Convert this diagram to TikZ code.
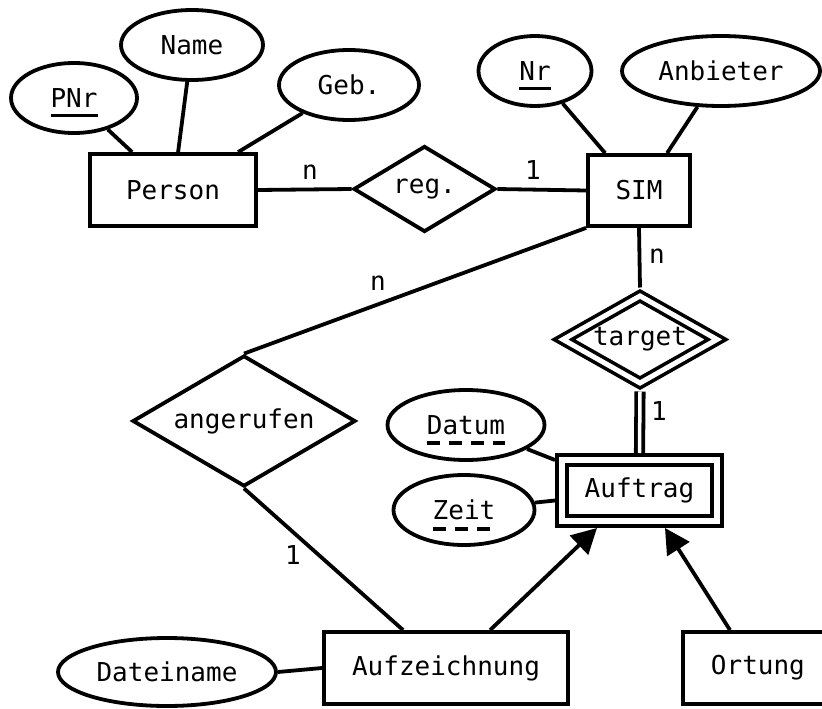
\documentclass[tikz,border=0pt]{standalone}
\usepackage{fontspec}
\setmainfont{DejaVu Sans Mono}
\usetikzlibrary{shapes.geometric,arrows.meta}
\begin{document}
\begin{tikzpicture}[x=1pt,y=-1pt,
  every node/.style={font=\fontsize{26}{31}\selectfont, inner sep=0pt},
  lw/.style={line width=3.8pt},
  entity/.style={draw, lw, rectangle},
  weakentity/.style={draw, rectangle, line width=3.8pt, double, double distance=5.5pt, outer sep=7pt},
  attr/.style={draw, lw, ellipse, minimum height=70pt},
  rel/.style={draw, lw, diamond, aspect=1.7},
  weakrel/.style={draw, diamond, aspect=1.73, line width=3.6pt, double, double distance=5pt, outer sep=6pt},
  conn/.style={lw},
  card/.style={inner sep=0pt},
  keyline/.style={line width=3.8pt},
  partkey/.style={line width=3.8pt, dash pattern=on 13pt off 9pt},
  isa/.style={lw, -{Triangle[length=25pt,width=26pt]}}
]
\clip (0,0) rectangle (822,709);
% entities
\node[entity, minimum width=166pt, minimum height=72pt] (person) at (173,190) {Person};
\node[entity, minimum width=102pt, minimum height=71pt] (sim) at (639,190.5) {SIM};
\node[weakentity, minimum width=155pt, minimum height=61pt] (auftrag) at (639.5,490.5) {Auftrag};
\node[entity, minimum width=244pt, minimum height=72pt] (aufz) at (446,668) {Aufzeichnung};
\node[entity, minimum width=150pt, minimum height=72pt, anchor=west] (ortung) at (681,668) {Ortung};
% relationships
\node[rel, minimum width=142pt, minimum height=86pt] (reg) at (424.5,189) {reg.};
\node[weakrel, minimum width=159pt, minimum height=92pt] (target) at (640,339.5) {target};
\node[rel, minimum width=223pt, minimum height=131pt] (ang) at (244,421) {angerufen};
% attributes
\node[attr, minimum width=126pt] (pnr) at (74,98) {PNr};
\node[attr, minimum width=142pt] (name) at (192,45) {Name};
\node[attr, minimum width=140pt] (geb) at (349,85) {Geb.};
\node[attr, minimum width=113pt] (nr) at (535,71) {Nr};
\node[attr, minimum width=198pt] (anb) at (721,71) {Anbieter};
\node[attr, minimum width=157pt] (datum) at (466,425) {Datum};
\node[attr, minimum width=141pt] (zeit) at (464,510) {Zeit};
\node[attr, minimum width=218pt, minimum height=68pt] (datei) at (167,672) {Dateiname};
% key underlines
\draw[keyline] ([xshift=-23.5pt,yshift=-8pt]pnr.base) -- ([xshift=23.5pt,yshift=-8pt]pnr.base);
\draw[keyline] ([xshift=-15.6pt,yshift=-8pt]nr.base) -- ([xshift=15.6pt,yshift=-8pt]nr.base);
\draw[partkey] ([xshift=-39pt,yshift=-9pt]datum.base) -- ([xshift=39pt,yshift=-9pt]datum.base);
\draw[partkey] ([xshift=-31.3pt,yshift=-9pt]zeit.base) -- ([xshift=31.3pt,yshift=-9pt]zeit.base);
% attribute connectors
\draw[conn] (pnr) -- ([xshift=44pt]person.north west);
\draw[conn] (name) -- ([xshift=90pt]person.north west);
\draw[conn] (geb) -- ([xshift=150pt]person.north west);
\draw[conn] (nr) -- ([xshift=19pt]sim.north west);
\draw[conn] (anb) -- ([xshift=81pt]sim.north west);
\draw[conn] (datum) -- ([yshift=-7pt]auftrag.north west);
\draw[conn] (zeit) -- ([yshift=-10pt]auftrag.west);
\draw[conn] (datei.east) -- (aufz.west);
% relationship connectors
\draw[conn] (person.east) -- (reg.west);
\draw[conn] (reg.east) -- (sim.west);
\draw[conn] (sim.south) -- (target.north);
\draw[line width=3.8pt, double, double distance=3.5pt] (target.south) -- (auftrag.north);
\draw[conn] (sim.south west) -- (ang.north);
\draw[conn] (ang.south) -- ([xshift=81pt]aufz.north west);
% isa arrows
\draw[isa] ([xshift=168pt]aufz.north west) -- ([xshift=42pt]auftrag.south west);
\draw[isa] ([xshift=49pt]ortung.north west) -- ([xshift=110pt]auftrag.south west);
% cardinalities
\node[card] (c1) at (310,172) {n};
\node[card] (c2) at (533,170) {1};
\node[card] (c3) at (657,256) {n};
\node[card] (c4) at (659,411) {1};
\node[card] (c5) at (378,283) {n};
\node[card] (c6) at (293,555) {1};
\end{tikzpicture}
\end{document}
